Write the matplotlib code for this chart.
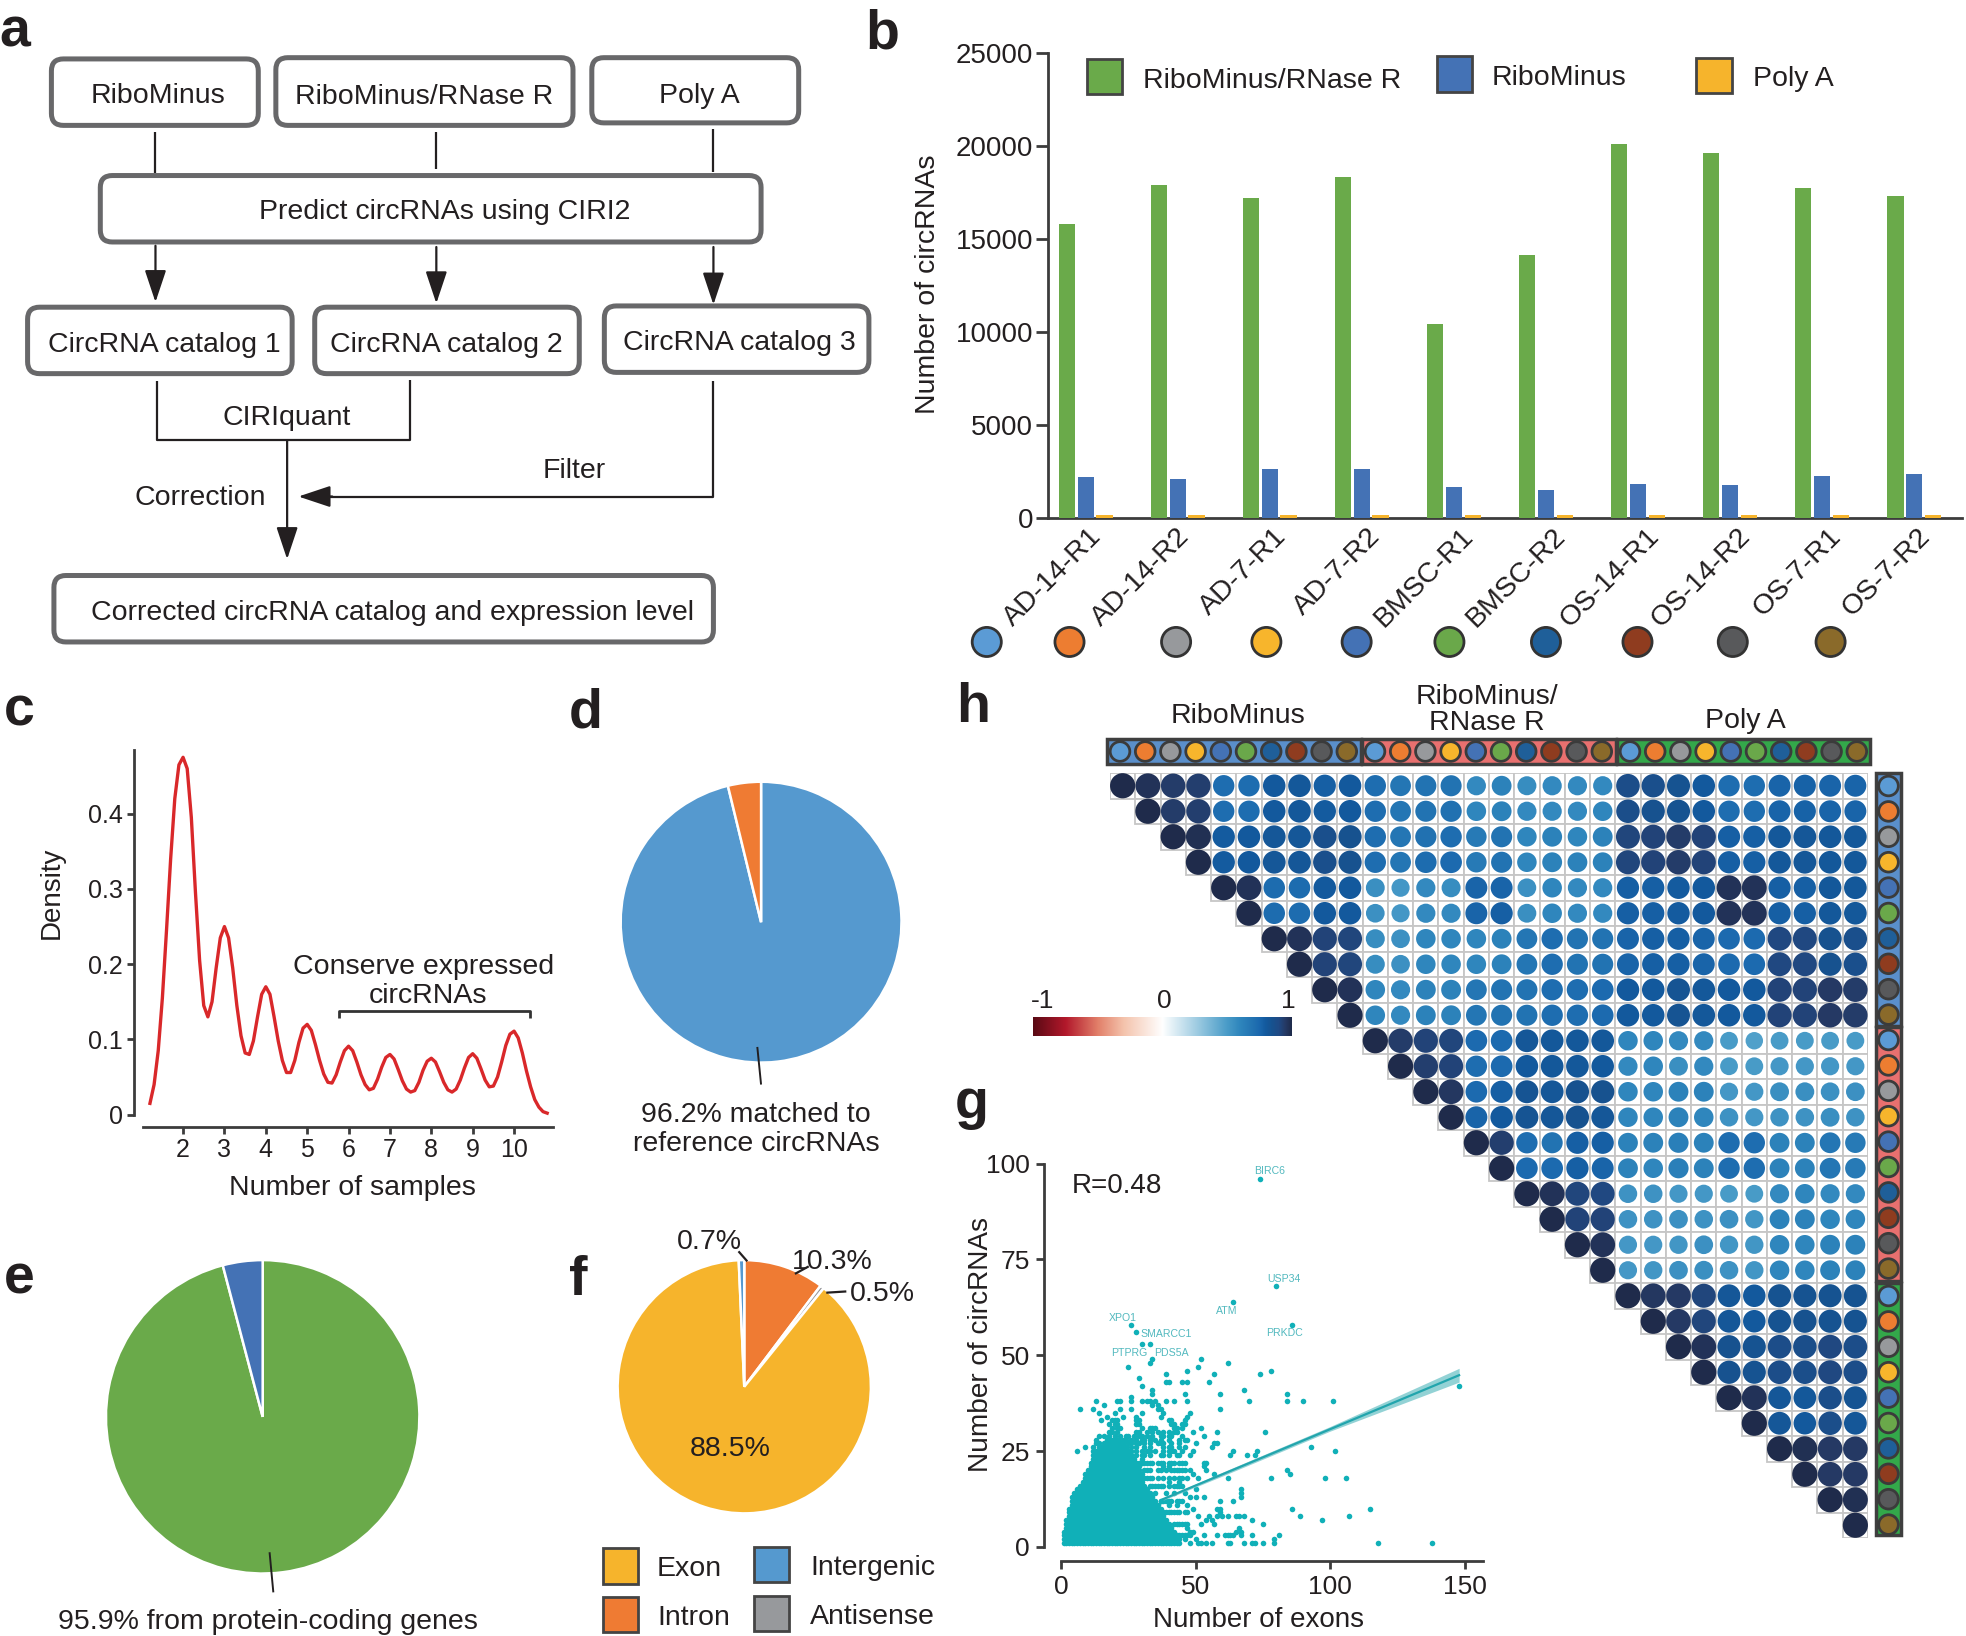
import numpy as np
import matplotlib
matplotlib.use('Agg')
import matplotlib.pyplot as plt
from matplotlib.patches import FancyBboxPatch, Rectangle
from matplotlib.colors import LinearSegmentedColormap

plt.rcParams['font.family'] = ['Liberation Sans', 'DejaVu Sans']
TXT = '#231f20'
AXC = '#3c3c3c'
W, H = 1966, 1636
K = 1966 / 1568

# ---------- data ----------
samples = ['AD-14-R1','AD-14-R2','AD-7-R1','AD-7-R2','BMSC-R1','BMSC-R2','OS-14-R1','OS-14-R2','OS-7-R1','OS-7-R2']
sample_colors = ['#5b9bd5','#ed7d31','#97999c','#f7b52c','#4472b5','#6aa84a','#1f5f99','#8f3c1f','#58595b','#8a6a2a']
rmr_counts = [15800,17900,17200,18300,10400,14100,20100,19600,17700,17300]
rm_counts = [2200,2100,2600,2650,1650,1500,1800,1750,2250,2350]
polya_counts = [170,170,170,170,170,170,170,170,170,170]

density_y = [.015,.04,.085,.155,.245,.34,.42,.465,.475,.46,.395,.295,.205,.145,.13,.15,.195,.235,.25,
 .235,.195,.145,.105,.082,.08,.098,.13,.16,.17,.16,.13,.098,.072,.056,.056,.072,.096,.115,.12,
 .112,.093,.072,.054,.043,.042,.053,.07,.085,.091,.085,.07,.053,.04,.033,.035,.047,.063,.076,.08,
 .074,.06,.045,.034,.03,.032,.043,.059,.071,.075,.07,.057,.043,.033,.03,.034,.046,.062,.076,.081,
 .075,.061,.046,.037,.038,.05,.07,.092,.107,.111,.102,.082,.058,.037,.02,.01,.004,.002]
density_x = [v / 10 for v in range(12, 109)]

pie_d = [96.2, 3.8]
pie_e = [95.9, 4.1]
pie_f = [10.3, 0.5, 88.5, 0.7]
pie_f_colors = ['#ef7b33', '#97999c', '#f6b42c', '#5599d0']

# correlation blocks, percent, read row by row
rm_rm = [
 [100,97,94,93,72,72,80,81,78,80],[97,100,94,93,72,72,80,81,79,80],
 [0,0,100,98,79,80,82,82,86,85],[0,0,0,100,79,80,82,82,86,85],
 [0,0,0,0,100,97,73,73,80,80],[0,0,0,0,0,100,73,73,80,80],
 [0,0,0,0,0,0,100,97,92,91],[0,0,0,0,0,0,0,100,92,91],
 [0,0,0,0,0,0,0,0,100,97],[0,0,0,0,0,0,0,0,0,100]]
rm_rmr = [
 [72,68,70,70,58,62,57,58,58,58],[72,68,70,71,60,62,58,58,58,60],
 [72,68,71,72,66,70,60,62,60,62],[72,68,73,74,66,70,60,62,62,62],
 [56,52,58,57,76,76,55,60,58,58],[55,52,58,58,76,78,56,60,58,58],
 [57,55,60,60,60,62,68,72,70,70],[57,55,60,60,60,62,68,72,70,70],
 [60,58,62,62,68,70,70,72,72,74],[60,58,62,62,68,70,70,72,72,74]]
rm_pa = [
 [88,86,84,80,72,72,76,77,76,76],[87,85,84,80,72,72,76,77,76,76],
 [91,92,94,92,78,78,81,82,81,81],[91,92,94,92,78,78,81,82,81,81],
 [78,78,79,80,97,97,78,78,81,81],[78,78,79,80,97,97,78,78,81,81],
 [76,78,78,76,74,74,90,90,85,86],[76,78,78,76,74,74,90,90,85,86],
 [80,80,83,81,80,80,92,92,95,94],[80,80,83,81,80,80,92,92,95,94]]
rmr_rmr = [
 [100,94,92,91,74,74,82,81,81,81],[0,100,93,92,72,74,80,81,81,80],
 [0,0,100,96,74,78,83,82,85,85],[0,0,0,100,76,80,83,82,85,82],
 [0,0,0,0,100,93,72,70,78,78],[0,0,0,0,0,100,74,74,78,76],
 [0,0,0,0,0,0,100,97,91,90],[0,0,0,0,0,0,0,100,92,92],
 [0,0,0,0,0,0,0,0,100,97],[0,0,0,0,0,0,0,0,0,100]]
rmr_pa = [
 [60,60,58,58,50,48,50,50,50,50],[58,60,56,58,50,50,52,52,52,52],
 [60,60,62,62,52,52,56,56,55,55],[60,60,62,60,54,52,54,54,56,54],
 [62,62,64,62,72,72,62,62,68,66],[62,60,64,62,72,72,62,62,68,66],
 [54,54,52,52,50,50,58,60,58,58],[54,54,55,54,55,53,62,62,60,60],
 [52,52,53,55,53,53,60,60,62,62],[52,53,55,56,54,53,60,60,62,62]]
pa_pa = [
 [100,96,95,91,82,80,84,84,84,84],[0,100,95,91,82,80,84,85,84,84],
 [0,0,100,97,85,84,88,87,90,88],[0,0,0,100,85,84,88,87,90,88],
 [0,0,0,0,100,97,82,81,87,83],[0,0,0,0,0,100,82,80,87,82],
 [0,0,0,0,0,0,100,98,95,95],[0,0,0,0,0,0,0,100,95,95],
 [0,0,0,0,0,0,0,0,100,98],[0,0,0,0,0,0,0,0,0,100]]

# solid part of the scatter: per y level, the x extent that is filled
dense_y = list(range(1, 29))
dense_xmin = [1,1,1,1,2,2,2,3,3,3,4,4,4,5,6,7,8,9,9,10,11,11,12,13,14,15,16,17]
dense_xmax = [44,44,43,42,41,40,39,38,38,37,36,35,34,33,32,31,30,30,30,29,29,28,27,26,25,24,23,22]
sparse_x = [74,80,64,26,86,28,30,33,34,33,52,25,51,62,47,78,39,57,74,29,30,39,40,45,47,55,34,34,46,59,68,84,148,
 13,21,22,26,30,32,33,35,39,42,47,70,84,90,101,26,16,34,36,7,12,22,26,36,37,59,14,20,30,38,48,17,23,28,37,47,
 15,20,28,40,41,46,20,28,41,45,21,33,35,42,45,52,18,28,34,42,49,58,76,16,25,30,37,38,40,41,45,53,13,24,31,46,47,
 13,25,29,37,44,50,57,58,9,12,36,46,40,56,93,6,12,15,32,40,42,49,64,73,102,13,30,38,44,48,63,69,72,
 30,34,44,53,54,40,38,42,45,48,53,54,84,85,57,49,47,62,51,78,98,106,40,44,37,43,50,67,35,39,42,46,48,50,53,67,67,
 37,45,59,64,40,43,47,58,59,59,47,49,86,115,65,51,55,58,60,62,66,68,89,107,54,56,71,97,52,57,75,47,66,48,49,
 58,62,64,67,71,81,79,65,67,61,63,53,50,46,48,51,52,54,56,62,63,68,71,72,75,79,118,138]
sparse_y = [96,68,64,58,58,56,53,53,49,48,49,47,47,48,46,46,45,45,45,44,42,43,43,43,43,43,41,40,40,40,41,40,42,
 38,38,38,38,38,38,38,38,38,38,38,38,38,38,38,39,37,37,37,36,36,36,36,36,36,36,35,35,35,35,35,34,34,34,34,34,
 33,33,33,33,33,33,32,32,32,32,31,31,31,31,31,31,30,30,30,30,30,30,30,29,29,29,29,29,29,29,29,29,28,28,28,28,28,
 27,27,27,27,27,27,27,27,26,26,27,26,26,26,26,25,25,25,25,25,25,25,25,25,25,24,24,24,24,24,24,24,24,
 23,22,22,22,22,21,21,20,20,20,21,20,20,19,19,19,18,18,18,18,18,18,17,17,16,16,15,15,14,14,14,14,13,13,13,13,14,
 12,12,12,12,11,11,11,10,10,9,9,10,10,10,8,8,8,8,8,8,8,8,8,8,7,7,7,7,6,6,6,5,5,4,4,
 3,3,3,3,3,3,2,4,4,3,3,3,2,2,1,1,1,1,1,1,1,1,1,1,1,1,1,1]
# further points around the top and right of the solid part, by y level
level_33 = [19,21,29]
level_32 = [18,21,29,42,46]
level_31 = [19,22,30,34,43]
level_30 = [19,21,29,32,36,38,40,43]
level_29 = [14,18,20,22,24,27,29,32,34]
level_28 = [23,26,28,30,33,35,37,40,44]
level_27 = [14,23,26,28,31,33,38,41]
level_26 = [14,24,26,28,31,33,38,41,44]
level_25 = [13,26,28,30,33,35,38,41,45]
level_24 = [12,26,28,31,33,37,40,43]
level_22 = [28,29,30,31,32,33,36,37,38,40,41,42,45,46]
level_20 = [31,32,33,36,37,39,41,43,44,46]
level_18 = [31,32,33,34,36,38,40,42,44,45]
level_16 = [33,34,35,36,38,40,42,44,45]
level_12 = [37,38,39,40,41,43,44]
level_9 = [39,40,41,42,43,44,46]
level_6 = [42,43,44,45,46,47]
level_3 = [44,45,46,47,48]
gene_names = ['BIRC6','USP34','ATM','XPO1','SMARCC1','PTPRG','PDS5A','PRKDC']
gene_x = [77.5,83,61.5,23,39,25.5,41,83]
gene_y = [98,70,61.5,59.8,55.5,50.5,50.5,55.7]
fit_x = [38, 148]
fit_y = [12.5, 44.8]
band_x = [38, 60, 100, 148]
band_low = [12.2, 18.5, 30.2, 43.0]
band_high = [12.8, 19.5, 31.4, 46.6]

# ---------- helpers ----------
fig = plt.figure(figsize=(W / 100, H / 100), dpi=100, facecolor='white')

def axpx(l, t, r, b, **kw):
    return fig.add_axes([l / W, 1 - b / H, (r - l) / W, (b - t) / H], **kw)

def P(x, y):
    return x * K, y * K

ov = axpx(0, 0, W, H)
ov.set_xlim(0, W); ov.set_ylim(H, 0); ov.axis('off'); ov.set_zorder(5); ov.patch.set_alpha(0)

def T(x, y, s, size=20.5, ha='center', va='center', **kw):
    if kw.get('rotation') == 90:
        x += 2.3
    else:
        y += 2.3
    xx, yy = P(x, y)
    kw.setdefault('color', TXT)
    ov.text(xx, yy, s, fontsize=size, ha=ha, va=va, **kw)

def L(xs, ys, lw=1.6, color='#231f20'):
    ov.plot([x * K for x in xs], [y * K for y in ys], color=color, lw=lw, solid_capstyle='butt')

def arrow(x0, y0, x1, y1):
    ov.annotate('', xy=P(x1, y1), xytext=P(x0, y0),
                arrowprops=dict(arrowstyle='-|>,head_width=0.3,head_length=0.9', color='#231f20', lw=1.6,
                                shrinkA=0, shrinkB=0, mutation_scale=22))

def box(x0, y0, x1, y1, s, tx, ty):
    a, b = P(x0, y0); c, d = P(x1, y1)
    ov.add_patch(FancyBboxPatch((a + 10, b + 10), c - a - 20, d - b - 20,
                 boxstyle='round,pad=10,rounding_size=12', fc='white', ec='#68686a', lw=3.6))
    T(tx, ty, s)

def style(ax):
    for sp in ('top', 'right'):
        ax.spines[sp].set_visible(False)
    for sp in ('left', 'bottom'):
        ax.spines[sp].set_color(AXC); ax.spines[sp].set_linewidth(2)
    ax.tick_params(color=AXC, width=2, labelcolor=TXT, labelsize=19)
    ax.patch.set_alpha(0)

for s, x, y in [('a',12,24),('b',704,25),('c',15,565),('d',467,567),('e',15,1018),('f',461,1019),('g',775,878),('h',776,562)]:
    T(x, y, s, 40, fontweight='bold')

# ---------- a ----------
box(41,47,206,100,'RiboMinus',126,74)
box(220,46,457,100,'RiboMinus/RNase R',338,75)
box(472,46,637,98,'Poly A',558,74)
box(80,140,607,193,'Predict circRNAs using CIRI2',355,167)
box(22,245,233,298,'CircRNA catalog 1',131,273)
box(251,245,462,298,'CircRNA catalog 2',356,273)
box(482,244,693,297,'CircRNA catalog 3',590,271)
box(43,459,569,512,'Corrected circRNA catalog and expression level',313,487)
for x, y0, y1 in [(124,105,138),(348,105,135),(569,103,137)]:
    L([x,x],[y0,y1])
for x, y0, y1 in [(124,196,241),(348,197,242),(569,197,243)]:
    arrow(x,y0,x,y1)
L([125,125,327,327],[304,351,351,303])
arrow(229,351,229,446)
L([569,569,262],[304,396,396])
arrow(265,396,238,396)
T(229,331,'CIRIquant'); T(458,373,'Filter'); T(160,395,'Correction')

# ---------- b ----------
ax = axpx(836*K, 42*K, 1565*K, 413*K)
x = np.arange(10)
ax.bar(x - 0.205, rmr_counts, 0.18, color='#6aaa4a', zorder=3)
ax.bar(x, rm_counts, 0.18, color='#4472b5', zorder=3)
ax.bar(x + 0.205, polya_counts, 0.18, color='#f6b42c', zorder=3)
ax.set_xlim(-30/73.4, 699/73.4); ax.set_ylim(0, 25000)
ax.set_yticks([0,5000,10000,15000,20000,25000])
style(ax)
ax.tick_params(axis='y', length=9, labelsize=20, pad=2)
ax.set_xticks([])
label_shift = [-12,-16,-12,-10,-9,-9,-8,-9,-10,-12]
for i, s in enumerate(samples):
    ax.annotate(s, xy=(i, 0), xytext=(13 + label_shift[i] * K * .72, -4), textcoords='offset points', rotation=45, ha='right', va='top',
                rotation_mode='anchor', fontsize=20.5, color=TXT, annotation_clip=False)
T(738,227,'Number of circRNAs',20.5,rotation=90)
for c, (x0, y0, tx, s) in zip(['#6aaa4a','#4472b5','#f6b42c'],
        [(867,47,912,'RiboMinus/RNase R'),(1146,45,1190,'RiboMinus'),(1353,46,1398,'Poly A')]):
    a, b = P(x0, y0)
    ov.add_patch(Rectangle((a, b), 28*K, 28*K, fc=c, ec='#444444', lw=2))
    T(tx, y0+15, s, ha='left')
cx = [787,853,938,1010,1082,1156,1233,1306,1382,1460]
ov.scatter([v*K for v in cx], [512*K]*10, s=440, c=sample_colors, edgecolors='#333333', linewidths=2)

# ---------- c ----------
ax = axpx(107*K, 598*K, 441*K, 899*K)
ax.plot(density_x, density_y, color='#d9282a', lw=2.4, solid_joinstyle='round')
ax.set_xlim(2 - 39/33, 2 + 295/33); ax.set_ylim(-10/600, 291/600)
style(ax)
ax.spines['left'].set_bounds(0, 291/600)
ax.spines['bottom'].set_bounds(1.03, 2 + 295/33)
ax.set_yticks([0,.1,.2,.3,.4]); ax.set_yticklabels(['0','0.1','0.2','0.3','0.4'])
ax.set_xticks(range(2,11))
ax.tick_params(axis='both', length=5, labelsize=18, pad=3)
T(39,712,'Density',20,rotation=90)
T(281,945,'Number of samples')
T(338,769,'Conserve expressed'); T(341,792,'circRNAs')
L([270,270,423,423],[812,806,806,812],lw=2,color='#333333')

# ---------- pies ----------
def pie(cx, cy, r, vals, cols):
    a = axpx((cx-r)*K, (cy-r)*K, (cx+r)*K, (cy+r)*K)
    a.pie(vals, colors=cols, startangle=90, counterclock=False, radius=1,
          wedgeprops=dict(edgecolor='white', linewidth=1.8))
    a.set_xlim(-1,1); a.set_ylim(-1,1)

pie(607,735.5,112,pie_d,['#5599cf','#ef7b33'])
L([604,607],[835,865],lw=1.4)
T(603,887,'96.2% matched to'); T(603,910,'reference circRNAs')
pie(209.5,1130,125,pie_e,['#6aaa4a','#4472b5'])
L([215,218],[1238,1270],lw=1.4)
T(214,1291,'95.9% from protein-coding genes')
pie(593.6,1106,101,pie_f,pie_f_colors)
T(566,988,'0.7%'); T(664,1004,'10.3%'); T(704,1030,'0.5%'); T(582,1153,'88.5%')
L([589,596],[998,1006]); L([645,634],[1010,1016]); L([675,659],[1030,1031])
for c, x0, y0, tx, s in [('#f6b42c',481,1235,524,'Exon'),('#ef7b33',481,1274,524,'Intron'),
                         ('#5599cf',601,1234,646,'Intergenic'),('#97999c',601,1273,646,'Antisense')]:
    a, b = P(x0, y0)
    ov.add_patch(Rectangle((a, b), 28*K, 28*K, fc=c, ec='#444444', lw=2))
    T(tx, y0+14, s, ha='left')

# ---------- h ----------
cmap = LinearSegmentedColormap.from_list('corr', [
    (0, '#5a0a14'), (.125, '#b2182b'), (.25, '#e2806a'), (.35, '#f4c3ac'), (.5, '#ffffff'), (.65, '#92c5de'),
    (.75, '#4a9cc8'), (.8, '#2f86bd'), (.85, '#2273b2'), (.875, '#1b68ae'), (.9, '#135a9e'), (.925, '#17528f'),
    (.95, '#1f4a85'), (.975, '#253a66'), (1, '#1f2b4b')])
corr = np.block([[np.array(rm_rm), np.array(rm_rmr), np.array(rm_pa)],
                 [np.zeros((10,10)), np.array(rmr_rmr), np.array(rmr_pa)],
                 [np.zeros((10,10)), np.zeros((10,10)), np.array(pa_pa)]]) / 100
ax = axpx(1110, 773, 1868, 1538)
ax.set_xlim(0,30); ax.set_ylim(30,0); ax.axis('off'); ax.patch.set_alpha(0)
xs, ys, vs = [], [], []
for i in range(30):
    for j in range(i, 30):
        ax.add_patch(Rectangle((j, i), 1, 1, fc='white', ec='#c6c6c6', lw=1.3, zorder=1))
        xs.append(j + .5); ys.append(i + .5); vs.append(corr[i, j])
vs = np.array(vs)
ax.scatter(xs, ys, s=(25.2 * .72 * np.sqrt(vs))**2, c=cmap((vs + 1) / 2), linewidths=0, zorder=2, clip_on=False)

blocks = [('#5a8fcb', 1107, 1360.5), ('#e8706f', 1362, 1615.5), ('#33a84a', 1617, 1870)]
for c, a, b in blocks:
    ov.add_patch(Rectangle((a, 739), b - a, 25, fc=c, ec='#3f3f3f', lw=2.5))
    ov.scatter(a + 13 + 25.2*np.arange(10), [751.5]*10, s=200, c=sample_colors, edgecolors='#3b3b3b', linewidths=2, zorder=4)
for c, a, b in [('#5a8fcb',773,1025.5), ('#e8706f',1027,1280.5), ('#33a84a',1283,1535)]:
    ov.add_patch(Rectangle((1876, a), 25, b - a, fc=c, ec='#3f3f3f', lw=2.5))
    ov.scatter([1888.5]*10, a + 13 + 25.4*np.arange(10), s=200, c=sample_colors, edgecolors='#3b3b3b', linewidths=2, zorder=4)
ov.text(1238, 716, 'RiboMinus', fontsize=20.5, ha='center', va='center', color=TXT)
ov.text(1487, 710, 'RiboMinus/\nRNase R', fontsize=20.5, ha='center', va='center', color=TXT, linespacing=1.05)
ov.text(1745, 721, 'Poly A', fontsize=20.5, ha='center', va='center', color=TXT)

cb = axpx(1033, 1017, 1292, 1036)
cb.imshow(np.linspace(0, 1, 256)[None, :], aspect='auto', cmap=cmap)
cb.axis('off')
ov.text(1043, 1001, '-1', fontsize=19, ha='center', va='center', color=TXT)
ov.text(1164, 1001, '0', fontsize=19, ha='center', va='center', color=TXT)
ov.text(1288, 1001, '1', fontsize=19, ha='center', va='center', color=TXT)

# ---------- g ----------
x0 = 1044; x_end = 1483
ppx = (1464.5 - 1061) / 150; ppy = (1547 - 1163.5) / 100
ax = axpx(x0, 1150, x_end, 1561)
ax.set_xlim((x0 - 1061) / ppx, (x_end - 1061) / ppx)
ax.set_ylim((1547 - 1561) / ppy, (1547 - 1150) / ppy)
dx, dy = [], []
for y, a, b in zip(dense_y, dense_xmin, dense_xmax):
    for v in range(a, b + 1):
        dx.append(v); dy.append(y)
levels = [(33,level_33),(32,level_32),(31,level_31),(30,level_30),(29,level_29),(28,level_28),(27,level_27),
          (26,level_26),(25,level_25),(24,level_24),(22,level_22),(20,level_20),(18,level_18),(16,level_16),
          (12,level_12),(9,level_9),(6,level_6),(3,level_3)]
for y, vals in levels:
    dx += vals; dy += [y] * len(vals)
ax.scatter(dx + sparse_x, dy + sparse_y, s=16, color='#10b0b8', linewidths=0, zorder=2, clip_on=False)
ax.fill_between(band_x, band_low, band_high, color='#6fc4c8', alpha=.75, linewidth=0, zorder=3)
ax.plot(fit_x, fit_y, color='#22a5ad', lw=1.6, zorder=4)
style(ax)
ax.spines['left'].set_bounds(0, 100)
ax.spines['bottom'].set_bounds(0, (x_end - 1061) / ppx)
ax.set_xticks([0,50,100,150]); ax.set_yticks([0,25,50,75,100])
ax.tick_params(axis='both', length=6, labelsize=19, pad=4)
for s, a, b in zip(gene_names, gene_x, gene_y):
    ax.text(a, b, s, fontsize=7.6, color='#52b9bf', ha='center', va='center', zorder=5)
ax.text(4, 94.2, 'R=0.48', fontsize=20, color=TXT, ha='left', va='center')
T(780,1072,'Number of circRNAs',20.2,rotation=90)
T(1004,1290,'Number of exons',20)

fig.savefig('out.png', dpi=100, facecolor='white')
